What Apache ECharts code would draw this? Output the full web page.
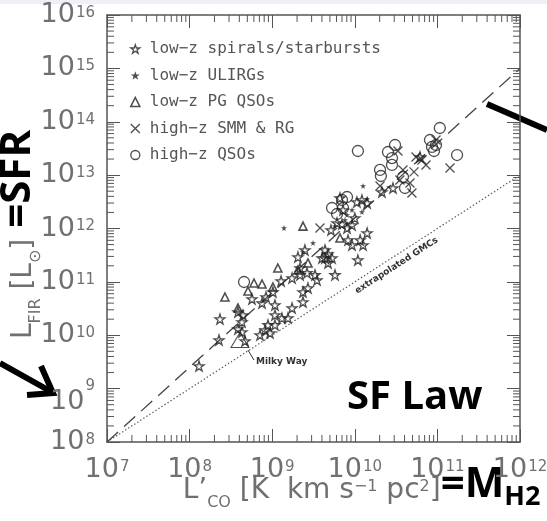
<!DOCTYPE html>
<html>
<head>
<meta charset="utf-8">
<script src="https://cdn.jsdelivr.net/npm/echarts@6/dist/echarts.min.js"></script>
<style>
  html, body { margin: 0; padding: 0; background: #fff; }
  #chart { width: 547px; height: 521px; }
</style>
</head>
<body>
<div id="chart"></div>
<script>
// L'CO [K km s^-1 pc^2] against L_FIR [L_sun], log-log.

// low-z spirals / starbursts
const spirals = [
  [1.30e8, 2.65e9], [2.27e8, 8.15e9], [2.33e8, 2.01e10], [3.85e8, 2.73e10], [3.85e8, 1.31e10],
  [4.31e8, 1.77e10], [4.31e8, 1.15e10], [4.43e8, 2.39e10], [4.69e8, 7.80e9], [5.69e8, 4.78e10],
  [7.12e8, 1.01e10], [7.53e8, 4.02e10], [8.18e8, 1.25e10], [8.41e8, 5.21e10], [8.89e8, 1.56e10],
  [9.40e8, 1.10e10], [1.08e9, 3.69e10], [1.08e9, 2.39e10], [1.08e9, 1.56e10], [1.28e9, 1.04e11],
  [1.31e9, 2.10e10], [1.55e9, 2.10e10], [1.74e9, 1.18e11], [1.74e9, 3.24e10], [2.05e9, 2.92e11],
  [2.17e9, 1.82e11], [2.17e9, 1.35e11], [2.36e9, 6.46e10], [2.36e9, 4.20e10], [2.64e9, 1.47e11],
  [2.71e9, 7.68e10], [3.30e9, 1.35e11], [2.49e9, 3.96e11], [4.36e9, 3.96e11], [4.74e9, 2.26e11],
  [5.30e9, 2.80e11], [5.76e9, 1.35e11], [8.28e9, 6.09e11], [9.25e9, 4.91e11], [1.26e10, 4.91e11],
  [1.09e10, 2.57e11], [5.15e9, 9.37e11], [6.09e9, 1.27e12], [7.00e9, 1.21e12], [8.05e9, 1.02e12],
  [9.25e9, 1.16e12], [1.00e10, 1.57e12], [1.06e10, 3.14e12], [1.22e10, 3.42e12], [2.13e10, 4.83e12],
  [2.90e10, 5.74e12], [6.15e10, 2.19e13], [3.49e9, 1.08e11], [4.01e9, 2.80e11], [1.02e9, 6.46e10],
  [6.62e9, 3.73e12], [1.41e10, 3.01e12], [7.20e9, 2.22e12], [1.16e10, 6.09e11], [1.41e10, 8.24e11],
  [4.74e9, 3.33e11], [4.36e9, 2.80e11]
];

// low-z ULIRGs
const ulirgs = [
  [1.39e9, 1.02e12], [3.12e9, 5.35e11], [1.26e10, 6.26e12], [1.41e10, 3.57e12], [9.25e9, 2.22e12],
  [1.22e10, 2.04e12], [8.05e9, 1.79e12], [2.36e9, 3.63e11], [5.76e9, 1.11e12], [7.60e9, 1.44e12]
];

// low-z PG QSOs
const pgQsos = [
  [2.68e8, 5.21e10], [3.85e8, 3.24e10], [5.09e8, 6.75e10], [6.02e8, 9.53e10], [7.53e8, 9.12e10],
  [1.02e9, 8.02e10], [1.17e9, 1.82e11], [2.05e9, 1.67e11], [2.36e9, 1.11e12], [2.71e9, 2.26e11],
  [6.62e9, 6.64e11]
];

// high-z SMM galaxies & radio galaxies
const smmRg = [
  [3.79e9, 1.02e12], [2.02e10, 6.26e12], [3.33e10, 2.83e13], [3.83e10, 1.25e13], [5.21e10, 1.15e13],
  [5.51e10, 2.19e13], [3.52e10, 8.11e12], [4.66e10, 7.12e12], [4.92e10, 4.62e12], [6.51e10, 1.92e13],
  [7.28e10, 1.55e13], [1.42e11, 1.36e13], [9.62e10, 4.55e13]
];

// high-z QSOs
const hizQsos = [
  [4.56e8, 9.95e10], [5.30e9, 2.42e12], [6.09e9, 1.87e12], [7.00e9, 3.42e12], [7.20e9, 2.42e12],
  [1.09e10, 2.83e13], [2.52e10, 2.71e13], [2.82e10, 2.09e13], [3.07e10, 3.67e13], [2.02e10, 1.25e13],
  [2.07e10, 9.63e12], [2.82e10, 1.55e13], [3.83e10, 9.23e12], [4.05e10, 5.74e12], [8.13e10, 4.55e13],
  [8.60e10, 3.37e13], [9.62e10, 3.67e13], [9.10e10, 2.83e13], [1.07e11, 7.64e13], [1.73e11, 2.38e13],
  [8.05e9, 3.89e12]
];

const milkyWay = [[4.07e8, 8.15e9]];

// fitted relation (dashed) and extrapolated GMC relation (dotted)
const fitLine = [[1e7, 1e8], [1e12, 1e15]];
const gmcLine = [[1e7, 1e8], [1e12, 1e13]];
const gmcLabelAt = 2.8e10;   // L'CO where the GMC label sits on its line

const seriesNames = [
  'low\u2212z spirals/starbursts',
  'low\u2212z ULIRGs',
  'low\u2212z PG QSOs',
  'high\u2212z SMM & RG',
  'high\u2212z QSOs'
];

const xTickExponents = [7, 8, 9, 10, 11, 12];
const yTickExponents = [8, 9, 10, 11, 12, 13, 14, 15, 16];
const minorMantissas = [2, 3, 4, 5, 6, 7, 8, 9];

const xMin = 1e7, xMax = 1e12, yMin = 1e8, yMax = 1e16;

const minorX = [];
xTickExponents.slice(0, -1).forEach(e => minorMantissas.forEach(m => minorX.push([m * Math.pow(10, e), yMin])));
const minorY = [];
yTickExponents.slice(0, -1).forEach(e => minorMantissas.forEach(m => minorY.push([xMin, m * Math.pow(10, e)])));

const FONT = 'DejaVu Sans';
const BOLD = 'Open Sans';
const GREY = '#707070';
const FRAME = '#555';
const INK = '#222';

const STAR = 'path://M50,2 L61.8,37.6 L99,37.6 L69,59.6 L80.4,95 L50,73.2 L19.6,95 L31,59.6 L1,37.6 L38.2,37.6 Z';
const CROSS = 'path://M0,0 L10,10 M10,0 L0,10';

const hollow = { color: 'rgba(0,0,0,0)', borderColor: INK, borderWidth: 1.3 };

const expOf = v => Math.round(Math.log10(v));

const labelRich = {
  b: { fontFamily: FONT, fontSize: 27, lineHeight: 27, color: GREY },
  s: { fontFamily: FONT, fontSize: 15, lineHeight: 15, color: GREY, verticalAlign: 'top', padding: [4, 0, 0, 1] },
  b9: { fontFamily: FONT, fontSize: 27, lineHeight: 27, color: GREY, padding: [26, 0, 0, 0] },
  s9: { fontFamily: FONT, fontSize: 15, lineHeight: 15, color: GREY, verticalAlign: 'bottom', padding: [0, 0, 9, 1] }
};

function frameAxis(extra) {
  return Object.assign({
    type: 'log', logBase: 10,
    axisLine: { show: true, lineStyle: { color: FRAME, width: 1.5 } },
    axisTick: { show: true, inside: true, length: 13, lineStyle: { color: FRAME, width: 1 } },
    splitLine: { show: false },
    minorTick: { show: false },
    minorSplitLine: { show: false }
  }, extra);
}

const nameRich = {
  n: { fontFamily: FONT, fontSize: 28, lineHeight: 28, color: GREY, verticalAlign: 'bottom', padding: [0, 0, 6, 0] },
  sub: { fontFamily: FONT, fontSize: 16, lineHeight: 16, color: GREY, verticalAlign: 'bottom', padding: [0, 0, 0, 0] },
  sup: { fontFamily: FONT, fontSize: 16, lineHeight: 16, color: GREY, verticalAlign: 'bottom', padding: [0, 0, 16, 0] },
  bb: { fontFamily: BOLD, fontWeight: 'bold', fontSize: 42, lineHeight: 42, color: '#000', verticalAlign: 'bottom', padding: [0, 0, 5, 0] },
  bsub: { fontFamily: BOLD, fontWeight: 'bold', fontSize: 27, lineHeight: 27, color: '#000', verticalAlign: 'bottom', padding: [0, 0, 0, 0] }
};

function minorTickRenderer(horizontal) {
  return function (params, api) {
    const cs = params.coordSys;
    const p = api.coord([api.value(0), api.value(1)]);
    const st = { stroke: FRAME, lineWidth: 1 };
    if (horizontal) {
      const b = cs.y + cs.height, t = cs.y;
      return { type: 'group', children: [
        { type: 'line', shape: { x1: p[0], y1: b, x2: p[0], y2: b - 7 }, style: st },
        { type: 'line', shape: { x1: p[0], y1: t, x2: p[0], y2: t + 7 }, style: st }
      ] };
    }
    const l = cs.x, r = cs.x + cs.width;
    return { type: 'group', children: [
      { type: 'line', shape: { x1: l, y1: p[1], x2: l + 7, y2: p[1] }, style: st },
      { type: 'line', shape: { x1: r, y1: p[1], x2: r - 7, y2: p[1] }, style: st }
    ] };
  };
}

const chart = echarts.init(document.getElementById('chart'), null, { renderer: 'canvas' });

const option = {
  animation: false,
  backgroundColor: '#fff',
  textStyle: { fontFamily: FONT },
  grid: { left: 107, right: 27, top: 15, bottom: 79, containLabel: false, outerBoundsMode: 'none' },
  xAxis: [
    frameAxis({
      min: xMin, max: xMax, splitNumber: 5, position: 'bottom',
      axisLabel: {
        margin: 14,
        formatter: v => {
          const e = expOf(v);
          if (xTickExponents.indexOf(e) < 0) return '';
          return '{b|10}{s|' + e + '}';
        },
        rich: labelRich
      },
      name: '{n|L\u2019}{sub|CO}{n| [K  km s}{sup|\u22121}{n| pc}{sup|2}{n|]}{bb|=M}{bsub|H2}',
      nameLocation: 'middle',
      nameGap: 27,
      nameMoveOverlap: false,
      nameTextStyle: { rich: nameRich, padding: [0, 0, 0, 96] }
    }),
    frameAxis({ min: xMin, max: xMax, splitNumber: 5, position: 'top', axisLabel: { show: false } })
  ],
  yAxis: [
    frameAxis({
      min: yMin, max: yMax, splitNumber: 8, position: 'left',
      axisLabel: {
        margin: 12,
        formatter: v => {
          const e = expOf(v);
          if (yTickExponents.indexOf(e) < 0) return '';
          if (e === 9) return '{b9|10}{s9|9}';
          return '{b|10}{s|' + e + '}';
        },
        rich: labelRich
      },
      name: '{n|L}{sub|FIR}{n| [L}{sub|\u2299}{n|]}{bb| =SFR}',
      nameLocation: 'middle',
      nameGap: 63,
      nameMoveOverlap: false,
      nameTextStyle: { rich: nameRich, padding: [0, 12, 0, 0] }
    }),
    frameAxis({ min: yMin, max: yMax, splitNumber: 8, position: 'right', axisLabel: { show: false } })
  ],
  legend: {
    orient: 'vertical', left: 130, top: 40, padding: 0,
    itemWidth: 9, itemHeight: 9, itemGap: 8.5,
    selectedMode: false,
    textStyle: { fontFamily: 'DejaVu Sans Mono', fontSize: 16, lineHeight: 18, color: '#555', padding: [0, 0, 0, 5] },
    data: [
      { name: seriesNames[0], icon: STAR, itemStyle: hollow },
      { name: seriesNames[1], icon: STAR, itemStyle: { color: INK, borderWidth: 0 } },
      { name: seriesNames[2], icon: 'triangle', itemStyle: { color: 'rgba(0,0,0,0)', borderColor: INK, borderWidth: 1.6 } },
      { name: seriesNames[3], icon: CROSS, itemStyle: hollow },
      { name: seriesNames[4], icon: 'circle', itemStyle: hollow }
    ]
  },
  series: [
    { type: 'custom', silent: true, data: minorX, renderItem: minorTickRenderer(true), z: 1 },
    { type: 'custom', silent: true, data: minorY, renderItem: minorTickRenderer(false), z: 1 },
    { type: 'line', data: fitLine, showSymbol: false, silent: true, z: 2,
      lineStyle: { color: '#444', width: 1.3, type: [15, 8] } },
    { type: 'line', data: gmcLine, showSymbol: false, silent: true, z: 2,
      lineStyle: { color: '#555', width: 1.2, type: [1.4, 2.2] } },
    { name: seriesNames[0], type: 'scatter', data: spirals, symbol: STAR, symbolSize: 10, z: 3,
      itemStyle: hollow, silent: true },
    { name: seriesNames[1], type: 'scatter', data: ulirgs, symbol: STAR, symbolSize: 6, z: 3,
      itemStyle: { color: INK, borderWidth: 0 }, silent: true },
    { name: seriesNames[2], type: 'scatter', data: pgQsos, symbol: 'triangle', symbolSize: 8, z: 3,
      itemStyle: { color: 'rgba(0,0,0,0)', borderColor: INK, borderWidth: 1.6 }, silent: true },
    { name: seriesNames[3], type: 'scatter', data: smmRg, symbol: CROSS, symbolSize: 9, z: 3,
      itemStyle: { color: 'rgba(0,0,0,0)', borderColor: INK, borderWidth: 1.3 }, silent: true },
    { name: seriesNames[4], type: 'scatter', data: hizQsos, symbol: 'circle', symbolSize: 11, z: 3,
      itemStyle: { color: 'rgba(0,0,0,0)', borderColor: INK, borderWidth: 1.3 }, silent: true },
    { type: 'scatter', data: milkyWay, symbol: 'triangle', symbolSize: [18, 15], z: 3,
      itemStyle: { color: 'rgba(0,0,0,0)', borderColor: INK, borderWidth: 1 }, silent: true }
  ]
};

chart.setOption(option);

// annotations placed through the axis scales
const toPx = v => chart.convertToPixel({ xAxisIndex: 0, yAxisIndex: 0 }, v);
const g0 = toPx(gmcLine[0]), g1 = toPx(gmcLine[1]);
const ang = Math.atan2(g0[1] - g1[1], g1[0] - g0[0]);
const ga = toPx([gmcLabelAt, gmcLabelAt * gmcLine[1][1] / gmcLine[1][0]]);
const off = 9;
const mw = toPx(milkyWay[0]);

chart.setOption({
  graphic: [
    { type: 'rect', shape: { x: 0, y: 0, width: 547, height: 4 }, style: { fill: '#edf1f5' }, silent: true },
    { type: 'text', x: ga[0] + off * Math.sin(ang), y: ga[1] + off * Math.cos(ang), rotation: ang,
      style: { text: 'extrapolated GMCs', fontFamily: FONT, fontWeight: 'bold', fontSize: 9, fill: '#333',
               align: 'center', verticalAlign: 'middle' }, silent: true },
    { type: 'line', shape: { x1: mw[0] + 8, y1: mw[1] + 10, x2: mw[0] + 14, y2: mw[1] + 20 },
      style: { stroke: '#333', lineWidth: 1 }, silent: true },
    { type: 'text', x: mw[0] + 16, y: mw[1] + 22,
      style: { text: 'Milky Way', fontFamily: FONT, fontWeight: 'bold', fontSize: 9, fill: '#333',
               align: 'left', verticalAlign: 'middle' }, silent: true },
    { type: 'text', x: 347, y: 398,
      style: { text: 'SF Law', fontFamily: BOLD, fontWeight: 'bold', fontSize: 40, fill: '#000',
               align: 'left', verticalAlign: 'middle' }, silent: true },
    { type: 'line', shape: { x1: 0, y1: 363, x2: 50, y2: 391 },
      style: { stroke: '#000', lineWidth: 6 }, silent: true },
    { type: 'polyline', shape: { points: [[27, 395], [53, 393], [41, 366]] },
      style: { stroke: '#000', lineWidth: 6, fill: null, lineJoin: 'miter' }, silent: true },
    { type: 'line', shape: { x1: 487, y1: 104, x2: 547, y2: 130 },
      style: { stroke: '#000', lineWidth: 6 }, silent: true }
  ]
});
</script>
</body>
</html>
